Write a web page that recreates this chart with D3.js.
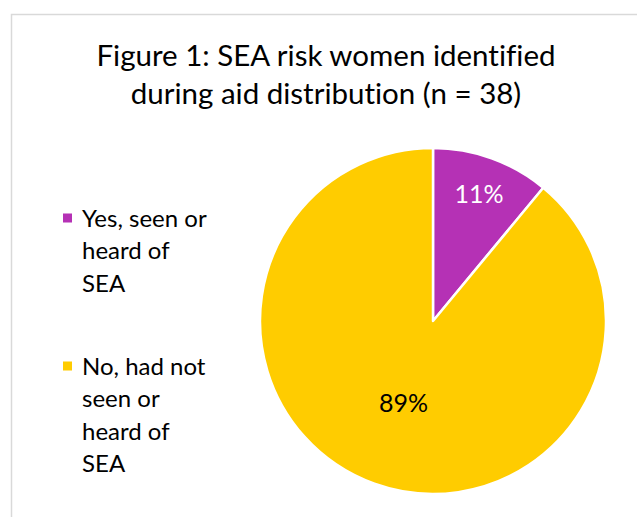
<!DOCTYPE html>
<html><head><meta charset="utf-8">
<script src="https://cdn.jsdelivr.net/npm/d3@7"></script>
<style>body{margin:0;background:#fff}svg{display:block}text{font-variant-ligatures:none;font-feature-settings:"liga" 0,"dlig" 0}</style>
</head><body>
<svg id="c" width="637" height="517"></svg>
<script>
const categories = ["Yes, seen or heard of SEA", "No, had not seen or heard of SEA"];
const legendLines = [["Yes, seen or", "heard of", "SEA"], ["No, had not", "seen or", "heard of", "SEA"]];
const values = [11, 89];
const valueLabels = ["11%", "89%"];
const titleLines = ["Figure 1: SEA risk women identified", "during aid distribution (n = 38)"];
const colors = ["#B531B5", "#FFCC00"];
const labelColors = ["#ffffff", "#000000"];

const svg = d3.select("#c");
const font = "Lato, 'Open Sans', sans-serif";

// border
svg.append("rect").attr("x", 11.5).attr("y", 14.5).attr("width", 640).attr("height", 520)
  .attr("fill", "#fff").attr("stroke", "#d9d9d9").attr("stroke-width", 1.5);

// title
svg.append("g").selectAll("text").data(titleLines).join("text")
  .attr("x", 326).attr("y", (d, i) => 66 + i * 37.5)
  .attr("text-anchor", "middle").attr("font-family", font).attr("font-size", 29.5)
  .attr("fill", "#000").text(d => d);

const cx = 433, cy = 321, r = 173;
const pie = d3.pie().sort(null).value(d => d)(values);
const arc = d3.arc().innerRadius(0).outerRadius(r);
const g = svg.append("g").attr("transform", `translate(${cx},${cy})`);
g.selectAll("path").data(pie).join("path")
  .attr("d", arc).attr("fill", (d, i) => colors[i])
  .attr("stroke", "#fff").attr("stroke-width", 2.5).attr("stroke-linejoin", "round");

const labelR = [135.5, 87];
g.selectAll("text.lbl").data(pie).join("text").attr("class", "lbl")
  .attr("transform", (d, i) => {
    const c = d3.arc().innerRadius(labelR[i]).outerRadius(labelR[i]).centroid(d);
    return `translate(${c[0]},${c[1]})`;
  })
  .attr("text-anchor", "middle").attr("dy", "0.36em")
  .attr("font-family", font).attr("font-size", 25)
  .attr("fill", (d, i) => labelColors[i]).text((d, i) => valueLabels[i]);

// legend
const legY = [218, 366];
const leg = svg.append("g");
categories.forEach((c, i) => {
  leg.append("rect").attr("x", 63).attr("y", legY[i] - 4.5).attr("width", 9).attr("height", 9).attr("fill", colors[i]);
  leg.append("g").selectAll("text").data(legendLines[i]).join("text")
    .attr("x", 82).attr("y", (d, j) => legY[i] + 8.5 + j * 32.5)
    .attr("font-family", font).attr("font-size", 24).attr("fill", "#000").text(d => d);
});
</script>
</body></html>
